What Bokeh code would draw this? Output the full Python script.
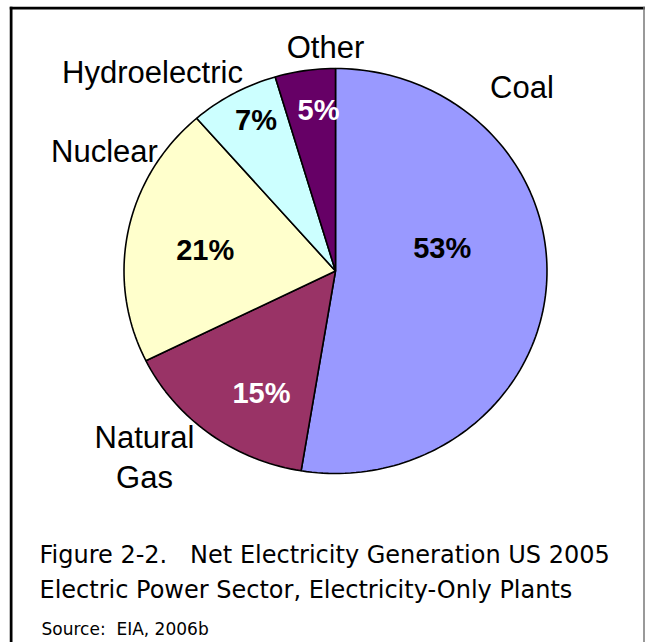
import numpy as np
from bokeh.plotting import figure
from bokeh.models import Range1d, ColumnDataSource, Label, Span
from bokeh.core.properties import value
from bokeh.embed import file_html
from bokeh.resources import INLINE

# ---- data ----
categories = ["Coal", "Natural Gas", "Nuclear", "Hydroelectric", "Other"]
shares = [52.6, 15.1, 20.9, 6.8, 4.6]          # percent of net generation
colors = ["#9999FF", "#993366", "#FFFFCC", "#CCFFFF", "#660066"]
pct_text_colors = ["black", "white", "black", "black", "white"]
caption_lines = ["Figure 2-2.\u00a0\u00a0 Net Electricity Generation US 2005",
                 "Electric Power Sector, Electricity-Only Plants"]
source_text = "Source:\u00a0 EIA, 2006b"

# ---- layout (picture pixels) ----
W, H = 645, 642
FL, FT = 9, 6              # frame starts at the drawn box corner
CX, CY = 335.0, 270.5      # pie centre
RX, RY = 211.5, 202.5      # pie radii
BASE_K = 0.37              # empirical baseline correction (fraction of font size)

def tx(px):
    return (px - CX) / RX

def ty(py):
    return (CY - py) / RY

p = figure(width=W, height=H, output_backend="svg", toolbar_location=None,
           x_range=Range1d(tx(FL), tx(W)), y_range=Range1d(ty(H), ty(FT)),
           min_border_left=FL, min_border_top=FT, min_border_right=0, min_border_bottom=0)
p.xaxis.visible = False
p.yaxis.visible = False
p.grid.visible = False
p.background_fill_color = "white"
p.border_fill_color = "white"
p.outline_line_color = None

# frame lines of the figure box
p.add_layout(Span(location=tx(10.5), dimension="height", line_color="black", line_width=3))
p.add_layout(Span(location=ty(7.5), dimension="width", line_color="black", line_width=3))
p.add_layout(Span(location=tx(643.5), dimension="height", line_color="#777777", line_width=1.5))

# ---- slices, clockwise from 12 o'clock ----
total = sum(shares)
cum = np.concatenate([[0.0], np.cumsum(shares)]) / total * 2 * np.pi
xs, ys = [], []
for i in range(len(shares)):
    a0, a1 = cum[i], cum[i + 1]
    n = max(4, int(240 * (a1 - a0) / (2 * np.pi)) + 2)
    t = np.linspace(a0, a1, n)
    xs.append(list(np.concatenate([[0.0], np.sin(t), [0.0]])))
    ys.append(list(np.concatenate([[0.0], np.cos(t), [0.0]])))
src = ColumnDataSource(dict(xs=xs, ys=ys, color=colors, name=categories))
p.patches("xs", "ys", source=src, fill_color="color", line_color="black", line_width=1.6)

# ---- percentage labels (centre x, baseline y in picture px) ----
PF = 29
pct_pos = [(441.7, 258.5), (261.0, 403.5), (204.7, 260.0), (255.5, 130.0), (318.0, 120.5)]
pct_src = ColumnDataSource(dict(
    x=[tx(a) for a, b in pct_pos], y=[ty(b - BASE_K * PF) for a, b in pct_pos],
    text=[f"{round(s)}%" for s in shares], color=pct_text_colors))
p.text("x", "y", text="text", source=pct_src, text_color="color",
       text_font=value("Liberation Sans"), text_font_style="bold", text_font_size=f"{PF}px",
       text_align="center", text_baseline="alphabetic")

# ---- category labels ----
CF = 31
cat_pos = [(521.5, 98.0), (144.0, 457.0 + BASE_K * CF), (104.0, 162.0), (152.0, 83.0), (325.0, 58.0)]
cat_text = [c.replace(" ", "\n") if c == "Natural Gas" else c for c in categories]
cat_src = ColumnDataSource(dict(
    x=[tx(a) for a, b in cat_pos], y=[ty(b - BASE_K * CF) for a, b in cat_pos], text=cat_text))
p.text("x", "y", text="text", source=cat_src, text_color="black",
       text_font=value("Liberation Sans"), text_font_size=f"{CF}px",
       text_align="center", text_baseline="alphabetic", text_line_height=1.14)

# ---- caption ----
FF = 24
for line, base in zip(caption_lines, [563.0, 598.0]):
    p.add_layout(Label(x=tx(39.0), y=ty(base - BASE_K * FF), text=line, text_font="DejaVu Sans",
                       text_font_size=f"{FF}px", text_color="black", text_baseline="alphabetic"))
SF = 17
p.add_layout(Label(x=tx(41.0), y=ty(635.0 - BASE_K * SF), text=source_text, text_font="DejaVu Sans",
                   text_font_size=f"{SF}px", text_color="black", text_baseline="alphabetic"))

open("out.html", "w").write(file_html(p, INLINE))
